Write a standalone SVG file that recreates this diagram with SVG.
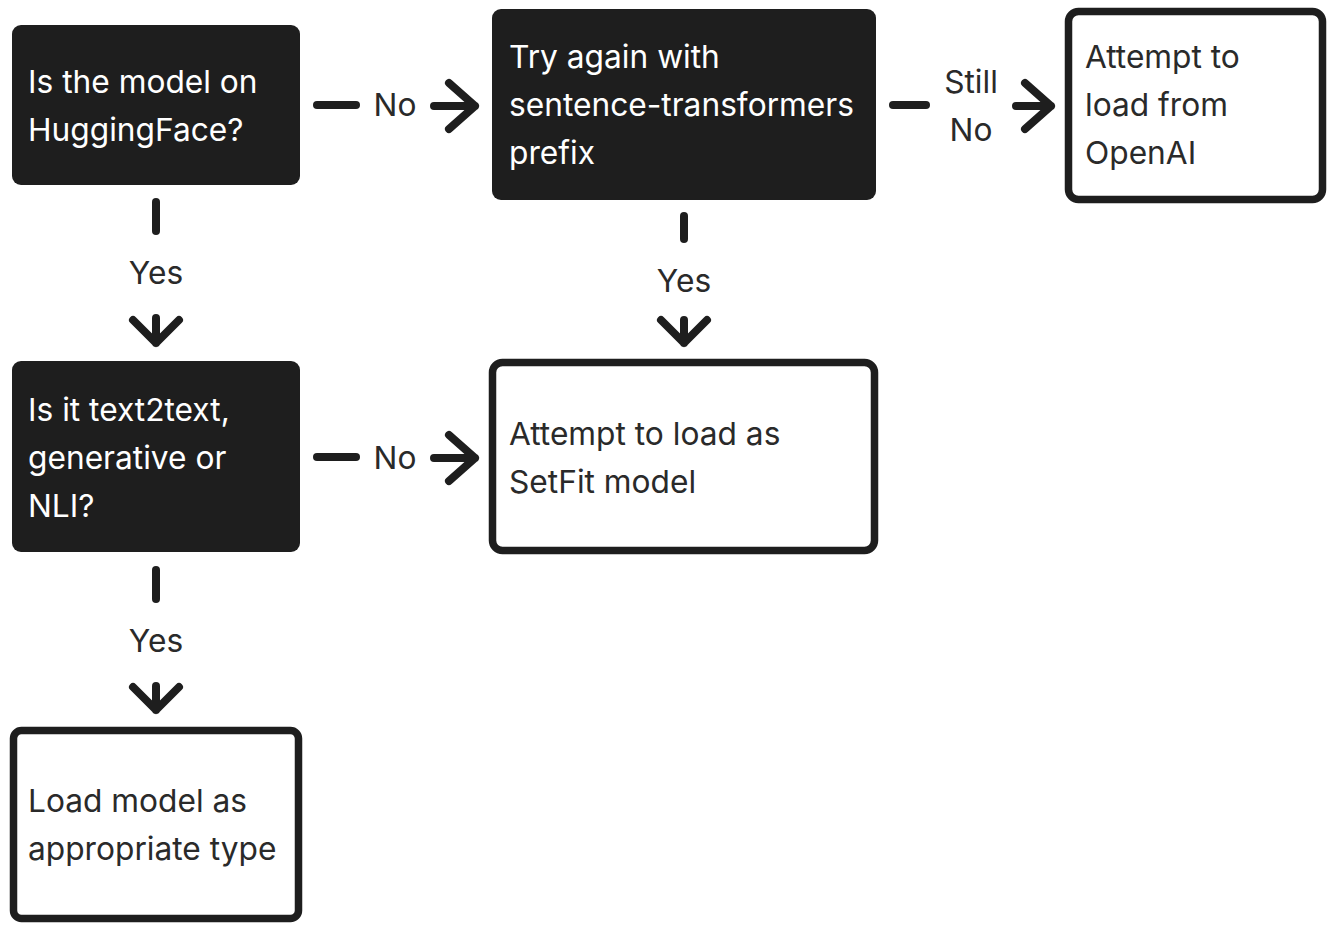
<svg xmlns="http://www.w3.org/2000/svg" width="1333" height="932" viewBox="0 0 1333 932">
<style>
.dark{fill:#1e1e1e}
.light{fill:#ffffff;stroke:#1e1e1e;stroke-width:7.5}
text{font-family:Inter,"Noto Sans","Liberation Sans",sans-serif;font-size:31.7px}
.wt{fill:#ffffff}
.bt{fill:#2a2a2a}
.lbl{fill:#2a2a2a;text-anchor:middle}
.c{fill:none;stroke:#1e1e1e;stroke-width:8;stroke-linecap:round;stroke-linejoin:round}
</style>
<rect width="1333" height="932" fill="#ffffff"/>
<g id="connectors">
<line class="c" x1="317" y1="105" x2="356" y2="105"/>
<text class="lbl" x="395" y="116">No</text>
<path class="c" d="M434 106 H475 M449 83 L475 106 L449 129"/>

<line class="c" x1="893" y1="105" x2="926" y2="105"/>
<text class="lbl" x="971" y="93">Still</text>
<text class="lbl" x="971" y="141">No</text>
<path class="c" d="M1016 106 H1051 M1025 83 L1051 106 L1025 129"/>

<line class="c" x1="156" y1="202" x2="156" y2="231"/>
<text class="lbl" x="156" y="284">Yes</text>
<path class="c" d="M156 318 V343 M133 320 L156 343 L179 320"/>

<line class="c" x1="684" y1="216" x2="684" y2="239"/>
<text class="lbl" x="684" y="292">Yes</text>
<path class="c" d="M684 320 V343 M661 320 L684 343 L707 320"/>

<line class="c" x1="317" y1="457" x2="356" y2="457"/>
<text class="lbl" x="395" y="469">No</text>
<path class="c" d="M434 458 H475 M449 435 L475 458 L449 481"/>

<line class="c" x1="156" y1="570" x2="156" y2="599"/>
<text class="lbl" x="156" y="652">Yes</text>
<path class="c" d="M156 686 V710 M133 687 L156 710 L179 687"/>
</g>
<g id="n1">
<rect class="dark" x="12" y="25" width="288" height="160" rx="9"/>
<text class="wt" x="28" y="93">Is the model on</text>
<text class="wt" x="28" y="141">HuggingFace?</text>
</g>
<g id="n2">
<rect class="dark" x="492" y="9" width="384" height="191" rx="9"/>
<text class="wt" x="509" y="68">Try again with</text>
<text class="wt" x="509" y="116">sentence-transformers</text>
<text class="wt" x="509" y="164">prefix</text>
</g>
<g id="n3">
<rect class="light" x="1068.5" y="11.5" width="254" height="188" rx="10"/>
<text class="bt" x="1085" y="68">Attempt to</text>
<text class="bt" x="1085" y="116">load from</text>
<text class="bt" x="1085" y="164">OpenAI</text>
</g>
<g id="n4">
<rect class="dark" x="12" y="361" width="288" height="191" rx="9"/>
<text class="wt" x="28" y="421">Is it text2text,</text>
<text class="wt" x="28" y="469">generative or</text>
<text class="wt" x="28" y="517">NLI?</text>
</g>
<g id="n5">
<rect class="light" x="492.5" y="362.5" width="382" height="188" rx="10"/>
<text class="bt" x="509" y="445">Attempt to load as</text>
<text class="bt" x="509" y="493">SetFit model</text>
</g>
<g id="n6">
<rect class="light" x="13.5" y="730.5" width="285" height="188" rx="8"/>
<text class="bt" x="28" y="812">Load model as</text>
<text class="bt" x="28" y="860">appropriate type</text>
</g>
</svg>
